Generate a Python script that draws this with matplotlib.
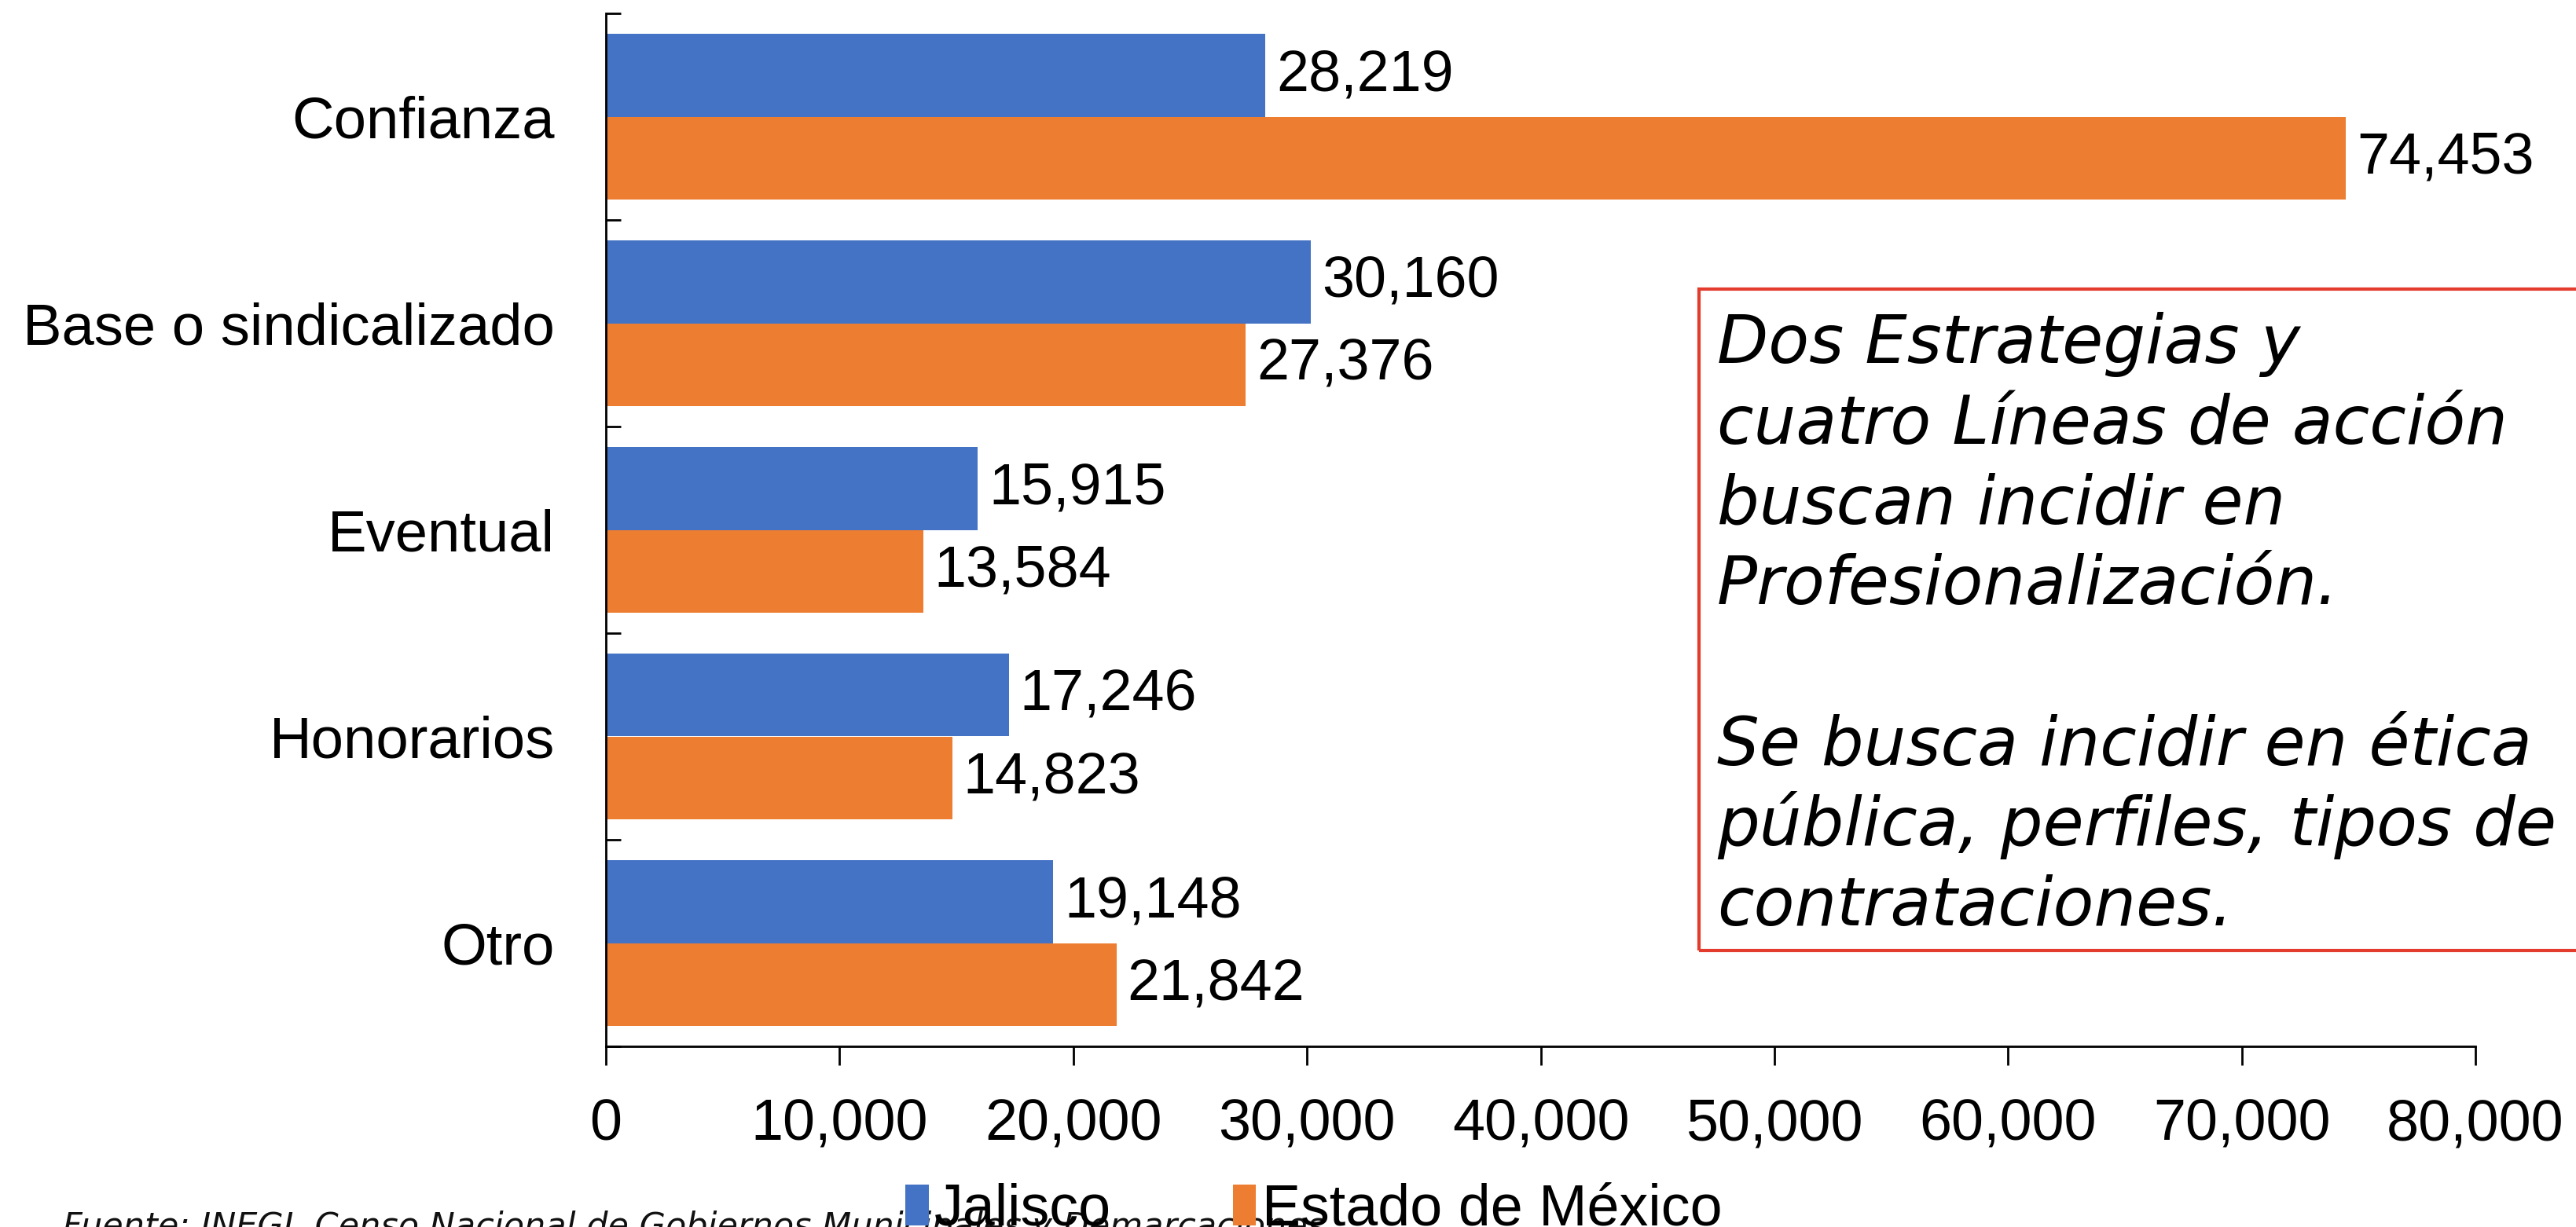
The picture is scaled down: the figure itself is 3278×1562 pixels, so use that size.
import matplotlib.pyplot as plt
import numpy as np
from matplotlib.patches import Rectangle
from matplotlib.ticker import FuncFormatter

# Data
categorias = ["Confianza", "Base o sindicalizado", "Eventual", "Honorarios", "Otro"]
jalisco = [28219, 30160, 15915, 17246, 19148]
edomex = [74453, 27376, 13584, 14823, 21842]
series_names = ["Jalisco", "Estado de México"]

nota_lineas = [
    ("Dos Estrategias", "normal"),
    ("cuatro Líneas de acción", "normal"),
    ("buscan incidir en", "light"),
    ("Profesionalización.", "light"),
    ("", "light"),
    ("Se busca incidir en ética", "light"),
    ("pública, perfiles, tipos de", "light"),
    ("contrataciones.", "light"),
]
fuente = "Fuente: INEGI, Censo Nacional de Gobiernos Municipales y Demarcaciones"

plt.rcParams["font.family"] = ["Liberation Sans", "DejaVu Sans"]

W, H = 3278, 1562
fig = plt.figure(figsize=(W / 100, H / 100), dpi=100)
ax = fig.add_axes([771 / W, 1 - 1332 / H, (3150 - 771) / W, (1332 - 17) / H])

blue = "#4472C4"
orange = "#ED7D31"
y = np.arange(len(categorias))
h = 0.4

b1 = ax.barh(y - h / 2, jalisco, height=h, color=blue, label=series_names[0])
b2 = ax.barh(y + h / 2, edomex, height=h, color=orange, label=series_names[1])

fmt = lambda v: f"{v:,.0f}"
ax.bar_label(b1, labels=[fmt(v) for v in jalisco], padding=10, fontsize=53)
ax.bar_label(b2, labels=[fmt(v) for v in edomex], padding=10, fontsize=53)

ax.set_xlim(0, 80000)
ax.set_ylim(len(categorias) - 0.5, -0.5)
ax.set_xticks(np.arange(0, 80001, 10000))
ax.xaxis.set_major_formatter(FuncFormatter(lambda v, p: f"{v:,.0f}"))
ax.set_yticks(y)
ax.set_yticklabels(categorias)
ax.set_yticks(np.arange(-0.5, len(categorias), 1), minor=True)

ax.tick_params(axis="x", direction="out", length=17, width=2, labelsize=53, pad=30)
ax.tick_params(axis="y", which="major", length=0, labelsize=53.5, pad=47)
ax.tick_params(axis="y", which="minor", direction="in", length=14, width=2)

for s in ["top", "right"]:
    ax.spines[s].set_visible(False)
for s in ["left", "bottom"]:
    ax.spines[s].set_linewidth(2)

# recuadro de texto
fig.patches.append(Rectangle((2162 / W, 1 - 1210 / H), 1200 / W, (1210 - 368) / H,
                             transform=fig.transFigure, fill=False,
                             edgecolor="#E33B2E", linewidth=3, clip_on=False))
nota_font = ["DejaVu Sans"]
base0 = 462
step = 102.3
fs_nota = 61
primera = None
for i, (txt, wt) in enumerate(nota_lineas):
    if not txt:
        continue
    t = fig.text(2185 / W, 1 - (base0 + i * step) / H, txt, fontsize=fs_nota,
                 style="italic", weight=wt, family=nota_font, va="baseline")
    if i == 0:
        primera = t

fig.canvas.draw()
bb = primera.get_window_extent()
fig.text(bb.x1 / W, 1 - base0 / H, " y", fontsize=fs_nota, style="italic",
         weight="light", family=nota_font, va="baseline")

fig.text(80 / W, 1 - 1574 / H, fuente, fontsize=31, style="italic", weight="light",
         family=nota_font, va="baseline", color="#111111")

fig.legend(loc="center", bbox_to_anchor=(0.510, 0.014), ncol=2, frameon=False,
           fontsize=53, handlelength=0.4, handleheight=0.7, handletextpad=0.1,
           columnspacing=2.1)

fig.savefig("out.png", dpi=100)
